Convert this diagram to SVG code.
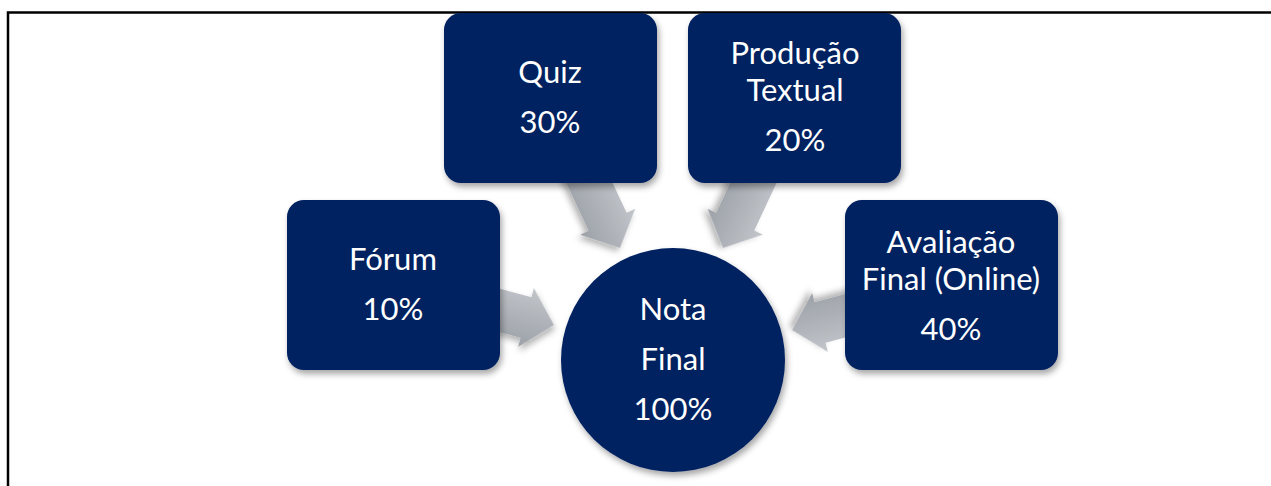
<svg xmlns="http://www.w3.org/2000/svg" width="1271" height="486" viewBox="0 0 1271 486">
<defs>
<style>
.node{fill:#002060;filter:url(#sh);}
.t{font-family:Lato,"Noto Sans",sans-serif;font-size:31px;fill:#ffffff;text-anchor:middle;}
.arr{fill:url(#ag);filter:url(#ash);}
.frame{stroke:#000;stroke-width:2.5;fill:none;}
</style>
<linearGradient id="ag" x1="0" y1="0" x2="0" y2="1">
<stop offset="0" stop-color="#c2c5ca"/>
<stop offset="1" stop-color="#9ca1a8"/>
</linearGradient>
<filter id="sh" x="-10%" y="-10%" width="125%" height="130%">
<feDropShadow dx="2" dy="4" stdDeviation="3" flood-color="#000" flood-opacity="0.35"/>
</filter>
<filter id="ash" x="-20%" y="-20%" width="150%" height="150%">
<feDropShadow dx="2" dy="4" stdDeviation="3" flood-color="#000" flood-opacity="0.3"/>
</filter>
<path id="arrow" d="M0,0 L-29,-30.5 L-29,-21 L-95,-21 L-95,21 L-29,21 L-29,30.5 Z"/>
</defs>
<rect width="1271" height="486" fill="#ffffff"/>
<path class="frame" d="M8,486 L8,12.5 L1271,12.5"/>
<g id="connectors">
<use href="#arrow" class="arr" transform="translate(620,248) rotate(64.8)"/>
<use href="#arrow" class="arr" transform="translate(723,248) rotate(115)"/>
<use href="#arrow" class="arr" transform="translate(554,325) rotate(15)"/>
<use href="#arrow" class="arr" transform="translate(792,330) rotate(165)"/>
</g>
<g id="quiz">
<rect class="node" x="444" y="13" width="213" height="170" rx="17"/>
<text class="t" x="550" y="83">Quiz</text>
<text class="t" x="550" y="133">30%</text>
</g>
<g id="producao">
<rect class="node" x="688" y="13" width="213" height="170" rx="17"/>
<text class="t" x="795" y="64">Produção</text>
<text class="t" x="795" y="101">Textual</text>
<text class="t" x="795" y="151">20%</text>
</g>
<g id="forum">
<rect class="node" x="287" y="200" width="213" height="170" rx="17"/>
<text class="t" x="393" y="270">Fórum</text>
<text class="t" x="393" y="320">10%</text>
</g>
<g id="avaliacao">
<rect class="node" x="845" y="200" width="213" height="170" rx="17"/>
<text class="t" x="951" y="253">Avaliação</text>
<text class="t" x="951" y="290">Final (Online)</text>
<text class="t" x="951" y="340">40%</text>
</g>
<g id="nota">
<circle class="node" cx="673" cy="360" r="112"/>
<text class="t" x="673" y="320">Nota</text>
<text class="t" x="673" y="370">Final</text>
<text class="t" x="673" y="420">100%</text>
</g>
</svg>
